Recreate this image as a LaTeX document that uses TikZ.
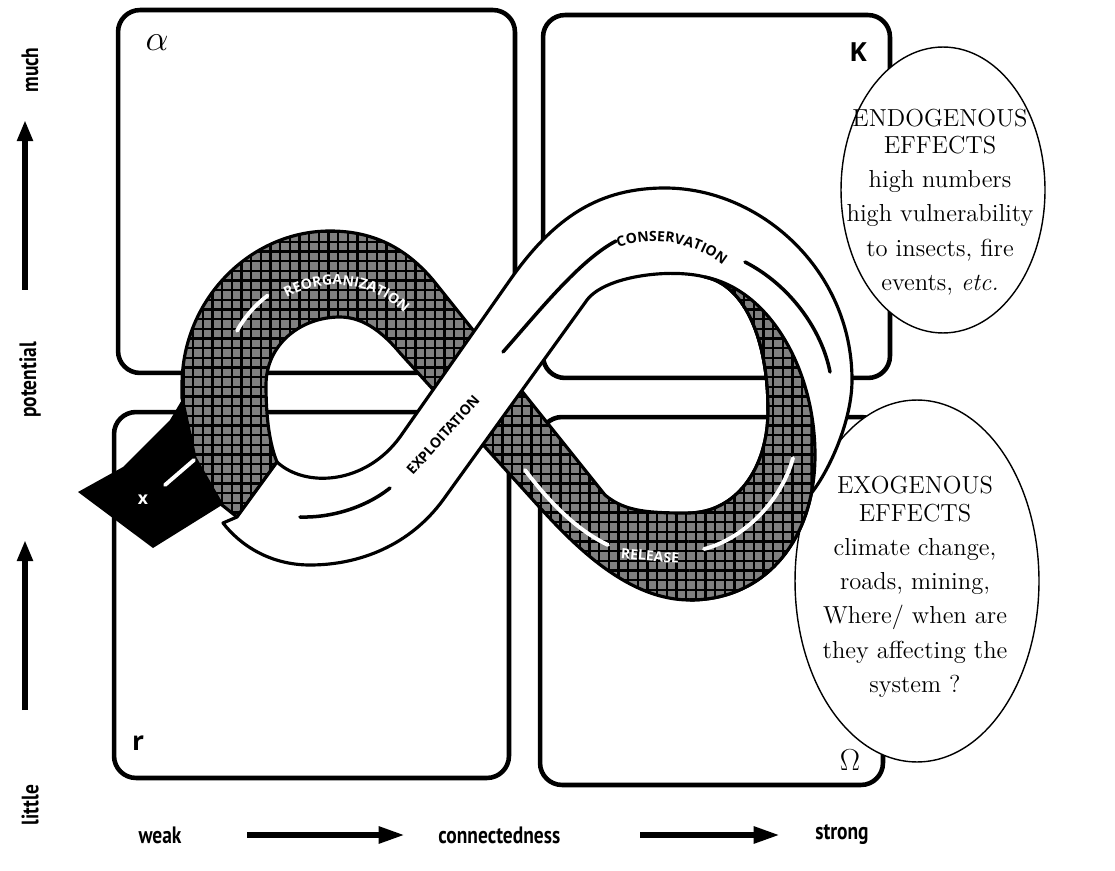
\documentclass[tikz,border=0pt]{standalone}
\usepackage{fontspec}
\newfontfamily\axisfont[FakeStretch=0.82]{PT Sans}
\newfontfamily\bandfont{Open Sans}
\usetikzlibrary{arrows.meta,decorations.text,patterns.meta,shapes.geometric}

% dark mesh laid over the grey ribbon
\tikzdeclarepattern{
  name=cellgrid,
  type=uncolored,
  bottom left={(-0.8pt,-0.8pt)},
  top right={(6.3pt,6.3pt)},
  tile size={(5.5pt,5.5pt)},
  code={
    \pgfsetlinewidth{1.4pt}
    \pgfpathmoveto{\pgfqpoint{-0.8pt}{0pt}}
    \pgfpathlineto{\pgfqpoint{6.3pt}{0pt}}
    \pgfpathmoveto{\pgfqpoint{0pt}{-0.8pt}}
    \pgfpathlineto{\pgfqpoint{0pt}{6.3pt}}
    \pgfusepath{stroke}
  }
}

\begin{document}
\begin{tikzpicture}[x=0.02cm, y=0.02cm,
  panel/.style={draw=black, line width=2.6pt, rounded corners=0.44cm, inner sep=0},
  rim/.style={draw=black, line width=1.8pt, line join=round},
  greyband/.style={fill=black!50, postaction={pattern=cellgrid, pattern color=black}},
  whiteband/.style={fill=white, draw=black, line width=1.8pt, line join=round},
  whitedash/.style={draw=white, line width=2.2pt, line cap=round},
  blackdash/.style={draw=black, line width=2pt, line cap=round},
  bandlabel/.style={font=\bandfont\bfseries\fontsize{8}{8}\selectfont, inner sep=0},
  bubble/.style={ellipse, draw=black, line width=0.8pt, fill=white, inner sep=0},
  bubbletext/.style={align=center, font=\fontsize{14}{19.5}\selectfont, inner sep=0},
  axislabel/.style={font=\axisfont\bfseries\fontsize{13.5}{14}\selectfont, inner sep=0},
  axisarrow/.style={line width=3.4pt, -{Triangle[length=12pt,width=8.5pt]}},
  flatarrow/.style={line width=3.4pt, -{Triangle[length=15pt,width=9pt]}}]

\useasboundingbox (0,0) rectangle (1115,870);

% ---- the four phase panels ----
\node[panel, minimum width=7.94cm, minimum height=7.26cm] (alphabox) at (316.5,678.5) {};
\node[panel, minimum width=6.94cm, minimum height=7.26cm] (kbox) at (716.5,673.5) {};
\node[panel, minimum width=7.90cm, minimum height=7.32cm] (rbox) at (311.5,275) {};
\node[panel, minimum width=6.86cm, minimum height=7.36cm] (obox) at (711.5,269) {};

\node[font=\fontsize{20}{20}\selectfont] (alpha) at (157,827) {$\alpha$};
\node[font=\bandfont\bfseries\fontsize{15}{15}\selectfont] (kappa) at (858,818) {K};
\node[font=\bandfont\bfseries\fontsize{15}{15}\selectfont] (rlabel) at (138,127) {r};
\node[font=\fontsize{18}{18}\selectfont] (omega) at (850,110) {$\Omega$};

% ---- effect bubbles ----
\node[bubble, minimum width=4.08cm, minimum height=5.72cm] (endo) at (943,680) {};
\node[bubbletext] (endotext) at (940,668)
  {ENDOGENOUS\\[-4pt]EFFECTS\\high numbers\\high vulnerability\\to insects, fire\\events, \textit{etc.}};
\node[bubble, minimum width=4.88cm, minimum height=7.24cm] (exo) at (917,289) {};
\node[bubbletext] (exotext) at (915,283)
  {EXOGENOUS\\[-4pt]EFFECTS\\climate change,\\roads, mining,\\Where/ when are\\they affecting the\\system ?};

% ---- grey ribbon: release and reorganization ----
\path[greyband, rim]
  (705,593)
  .. controls (745,585) and (768,530) .. (768,460)
  .. controls (768,400) and (735,357) .. (688,357)
  .. controls (650,357) and (625,358) .. (605,375)
  -- (433,590)
  .. controls (405,623) and (372,639) .. (330,639)
  .. controls (250,639) and (182,570) .. (182,485)
  -- (182,472)
  -- (195,412) -- (222,365) -- (237,353) -- (277,408)
  .. controls (268,430) and (266,460) .. (266,485)
  .. controls (266,525) and (300,553) .. (340,553)
  .. controls (365,553) and (385,535) .. (400,517)
  -- (533,370)
  .. controls (570,329) and (625,270) .. (690,270)
  .. controls (765,270) and (815,330) .. (815,415)
  .. controls (815,500) and (770,580) .. cycle;

% exit arrow leaving the cycle
\fill[black] (183,472) -- (170,450) -- (123,403) -- (78,378) -- (153,322)
  -- (222,365) -- (195,412) -- cycle;

% ---- white ribbon: exploitation and conservation ----
\path[whiteband]
  (223,347) -- (237,353) -- (277,408)
  .. controls (305,382) and (365,385) .. (400,433)
  -- (510,590)
  .. controls (555,654) and (600,682) .. (665,682)
  .. controls (760,682) and (852,600) .. (852,490)
  .. controls (852,450) and (830,400) .. (810,375)
  -- (778,440) -- (768,460)
  .. controls (768,530) and (745,585) .. (705,593)
  .. controls (670,602) and (605,594) .. (587,570)
  -- (443,370)
  .. controls (410,325) and (360,305) .. (310,305)
  .. controls (270,305) and (240,325) .. cycle;

% grey ribbon emerging on the inside of the right loop
\path[greyband]
  (705,593) .. controls (745,585) and (768,530) .. (768,460)
  .. controls (768,400) and (735,357) .. (688,357)
  -- (690,270) .. controls (765,270) and (815,330) .. (815,415)
  .. controls (815,500) and (770,580) .. cycle;
\draw[rim] (690,270) .. controls (765,270) and (815,330) .. (815,415)
  .. controls (815,500) and (770,580) .. (705,593)
  .. controls (745,585) and (768,530) .. (768,460)
  .. controls (768,400) and (735,357) .. (688,357);

% ---- phase labels on the ribbon ----
\draw[whitedash] (335,485) ++(151:2.24cm) arc[start angle=151, end angle=127, radius=2.24cm];
\path[decorate, decoration={text along path, text align=center,
  text={|\bandfont\bfseries\fontsize{8}{8}\selectfont\color{white}|REORGANIZATION}}]
  (335,485) ++(124:2cm) arc[start angle=124, end angle=41, radius=2cm];

\draw[blackdash] (300,353) .. controls (330,352) and (365,362) .. (390,382);
\node[bandlabel, rotate=48] (exploit) at (443,435) {EXPLOITATION};
\draw[blackdash] (503,518) .. controls (540,560) and (580,610) .. (616,629);

\path[decorate, decoration={text along path, text align=center,
  text={|\bandfont\bfseries\fontsize{8}{8}\selectfont|CONSERVATION}}]
  (617,622) .. controls (650,634) and (692,630) .. (724,604);
\draw[blackdash] (745,608) .. controls (790,585) and (822,540) .. (830,498);

\draw[whitedash] (525,400) .. controls (540,380) and (570,343) .. (608,325);
\node[bandlabel, text=white, rotate=-5] (release) at (650,314) {RELEASE};
\draw[whitedash] (704,321) .. controls (740,330) and (780,365) .. (793,412);

\draw[whitedash] (194,410) -- (165,385);
\node[font=\bandfont\bfseries\fontsize{10}{10}\selectfont, text=white] (exit) at (143,370) {x};

% ---- axes ----
\node[axislabel, rotate=90] (much) at (30,800) {much};
\node[axislabel, rotate=90] (potential) at (30,490) {potential};
\node[axislabel, rotate=90] (little) at (30,65) {little};
\coordinate (upAs) at (25,580);
\coordinate (upAe) at (25,750);
\coordinate (upBs) at (25,160);
\coordinate (upBe) at (25,330);
\draw[axisarrow] (upAs) -- (upAe);
\draw[axisarrow] (upBs) -- (upBe);

\node[axislabel] (weak) at (160,35) {weak};
\node[axislabel, anchor=west] (conn) at (438,35) {connectedness};
\node[axislabel] (strong) at (842,35) {strong};
\coordinate (hAs) at (247,35);
\coordinate (hAe) at (405,35);
\coordinate (hBs) at (640,35);
\coordinate (hBe) at (780,35);
\draw[flatarrow] (hAs) -- (hAe);
\draw[flatarrow] (hBs) -- (hBe);

\end{tikzpicture}
\end{document}
